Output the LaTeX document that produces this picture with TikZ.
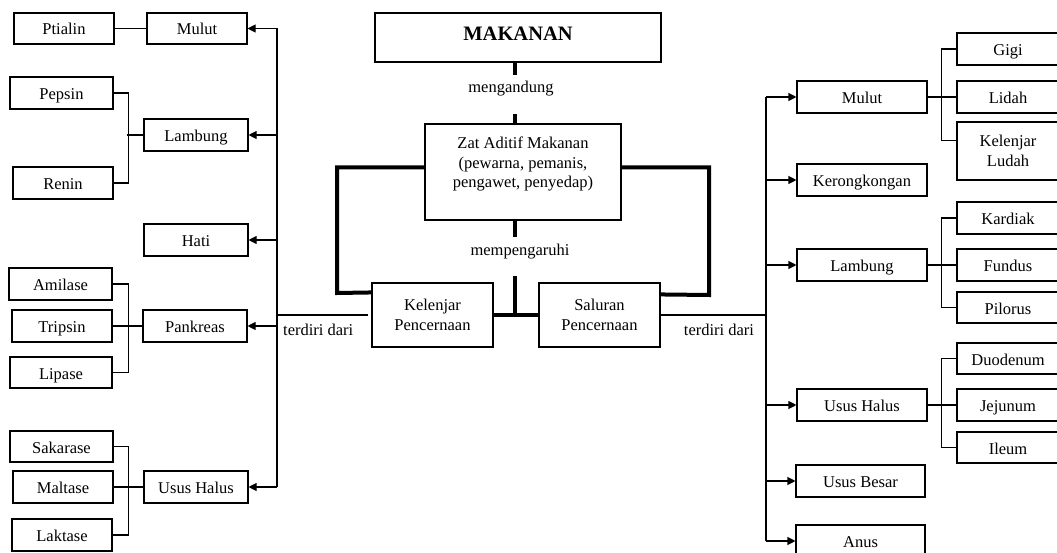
\documentclass[tikz,border=0pt]{standalone}
\usepackage{fontspec}
\setmainfont{Liberation Serif}
\usetikzlibrary{arrows.meta,calc}
\newcommand\rbox[7][]{\node[box, #1, minimum width={(#5-#3)*1pt}, minimum height={(#6-#4)*1pt}] (#2) at ({(#3+#5)/2},{(#4+#6)/2}) {#7};}
\begin{document}
\begin{tikzpicture}[x=1pt,y=-1pt,
  box/.style={draw, line width=1.1pt, rectangle, inner sep=0pt, align=center, font=\fontsize{16.5}{19.5}\selectfont},
  one/.style={text height=13.5pt, text depth=0.5pt},
  conn/.style={line width=1.1pt},
  arr/.style={conn, -{Triangle[length=8pt,width=8pt]}},
  heavy/.style={line width=4pt},
  lbl/.style={inner sep=0pt, font=\fontsize{16.5}{19.5}\selectfont}]
\useasboundingbox (0,0) rectangle (1057,553);
\clip (0,0) rectangle (1057,553);
% centre
\rbox[text height=14pt, text depth=7pt]{makanan}{375}{13}{661}{62}{\fontsize{20.5}{24}\selectfont\bfseries MAKANAN}
\rbox{zat}{425}{124}{621}{220}{Zat Aditif Makanan\\(pewarna, pemanis,\\pengawet, penyedap)\\[-6pt]\strut}
\rbox{kel}{372}{283}{493}{347}{Kelenjar\\Pencernaan}
\rbox{sal}{539}{283}{660}{347}{Saluran\\Pencernaan}
% left
\rbox[one]{lmulut}{147}{13}{247}{44}{Mulut}
\rbox[one]{ptialin}{14}{13}{114}{44}{Ptialin}
\rbox[one]{pepsin}{10}{77}{113}{109}{Pepsin}
\rbox[one]{llambung}{144}{119}{248}{151}{Lambung}
\rbox[one]{renin}{13}{167}{113}{199}{Renin}
\rbox[one]{hati}{144}{224}{248}{256}{Hati}
\rbox[one]{amilase}{9}{268}{112}{300}{Amilase}
\rbox[one]{tripsin}{12}{310}{112}{342}{Tripsin}
\rbox[one]{pankreas}{143}{310}{247}{342}{Pankreas}
\rbox[one]{lipase}{10}{357}{112}{388}{Lipase}
\rbox[one]{sakarase}{10}{431}{113}{462}{Sakarase}
\rbox[one]{maltase}{13}{471}{113}{503}{Maltase}
\rbox[one]{lusus}{144}{471}{248}{503}{Usus Halus}
\rbox[one]{laktase}{12}{519}{112}{551}{Laktase}
% right
\rbox[one]{rmulut}{797}{81}{927}{113}{Mulut}
\rbox[one]{kerong}{797}{164}{927}{196}{Kerongkongan}
\rbox[one]{rlambung}{797}{249}{927}{281}{Lambung}
\rbox[one]{rusus}{797}{389}{927}{421}{Usus Halus}
\rbox[one]{besar}{796}{465}{925}{497}{Usus Besar}
\rbox[one]{anus}{796}{525}{925}{557}{Anus}
\rbox[one]{gigi}{957}{33}{1059}{65}{Gigi}
\rbox[one]{lidah}{957}{81}{1059}{113}{Lidah}
\rbox{ludah}{957}{122}{1059}{180}{Kelenjar\\Ludah}
\rbox[one]{kardiak}{957}{202}{1059}{234}{Kardiak}
\rbox[one]{fundus}{957}{249}{1059}{281}{Fundus}
\rbox[one]{pilorus}{957}{292}{1059}{323}{Pilorus}
\rbox[one]{duo}{957}{343}{1059}{374}{Duodenum}
\rbox[one]{jeju}{957}{389}{1059}{421}{Jejunum}
\rbox[one]{ileum}{957}{432}{1059}{463}{Ileum}
% heavy connectors
\coordinate (sp) at (515,0);
\draw[heavy] (makanan.south -| sp) -- ++(0,12);
\node[lbl] (meng) at (511,89) {mengandung};
\draw[heavy] (zat.north -| sp) -- ++(0,-9);
\draw[heavy] (zat.south -| sp) -- ++(0,16);
\node[lbl] (memp) at (520,252) {mempengaruhi};
\draw[heavy] (kel.east) -- (sal.west);
\draw[heavy] (kel.east -| sp) -- ++(0,-39);
\draw[heavy] ($(zat.north west)+(0,44)$) -| (337,293) -- ($(kel.north west)+(0,10)$);
\draw[heavy] ($(zat.north east)+(0,44)$) -| (709,295) -- ($(sal.north east)+(0,12)$);
% left trunk
\coordinate (LT) at (277,315);
\draw[conn] ([xshift=-3pt]kel.west) -- (kel.west -| LT);
\node[lbl, anchor=west] (tdL) at (283,330) {terdiri dari};
\draw[conn] (lmulut.east -| LT) -- (lusus.east -| LT);
\foreach \n in {lmulut,llambung,hati,pankreas,lusus}
  \draw[arr] (\n.east -| LT) -- (\n.east);
\draw[conn] (ptialin.east) -- (lmulut.west);
\draw[conn] (pepsin.east) -- ++(15,0) |- (renin.east);
\draw[conn] (llambung.west) -- ++(-16,0);
\draw[conn] (amilase.east) -- ++(16,0) |- (lipase.east);
\draw[conn] (tripsin.east) -- (pankreas.west);
\draw[conn] (sakarase.east) -- ++(15,0) |- (laktase.east);
\draw[conn] (maltase.east) -- (lusus.west);
% right trunk
\coordinate (RT) at (766,315);
\draw[conn] (sal.east) -- (sal.east -| RT);
\node[lbl] (tdR) at (719,330) {terdiri dari};
\draw[conn] (rmulut.west -| RT) -- (anus.west -| RT);
\foreach \n in {rmulut,kerong,rlambung,rusus,besar,anus}
  \draw[arr] (\n.west -| RT) -- (\n.west);
\draw[conn] (rmulut.east) -- (lidah.west);
\draw[conn] (gigi.west) -- ++(-15,0) |- ($(ludah.north west)+(0,19)$);
\draw[conn] (rlambung.east) -- (fundus.west);
\draw[conn] (kardiak.west) -- ++(-15,0) |- (pilorus.west);
\draw[conn] (rusus.east) -- (jeju.west);
\draw[conn] (duo.west) -- ++(-15,0) |- (ileum.west);
\end{tikzpicture}
\end{document}
